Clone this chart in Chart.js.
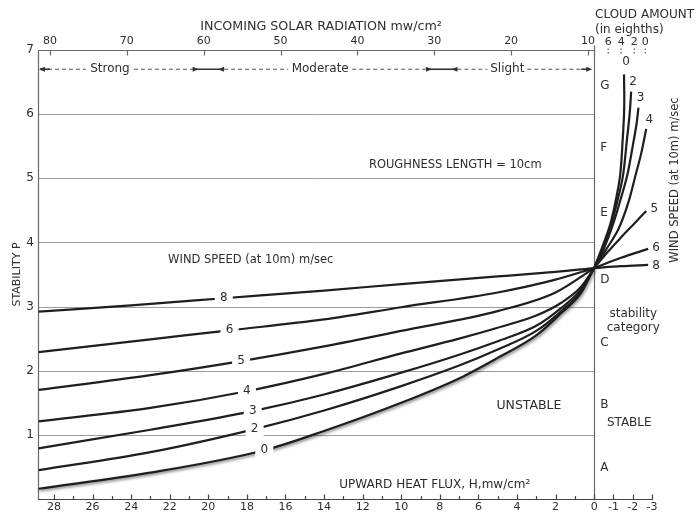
<!DOCTYPE html>
<html>
<head>
<meta charset="utf-8">
<script src="https://cdn.jsdelivr.net/npm/chart.js@4/dist/chart.umd.min.js"></script>
<style>
  html, body { margin: 0; padding: 0; background: #fff; }
  #wrap { width: 698px; height: 513px; }
</style>
</head>
<body>
<div id="wrap"><canvas id="c" width="698" height="513"></canvas></div>
<script>
// ---- axes ----
const FLUX_TICKS  = [28,27,26,25,24,23,22,21,20,19,18,17,16,15,14,13,12,11,10,9,8,7,6,5,4,3,2,1,0,-1,-2,-3];
const FLUX_LABELS = ['28','','26','','24','','22','','20','','18','','16','','14','','12','','10','','8','','6','','4','','2','','0','-1','-2','-3'];
const SOLAR_TICKS = [80,70,60,50,40,30,20,10];
const STAB_TICKS  = [0,1,2,3,4,5,6,7];
const CLOUD_TICKS = ['6','4','2','0'];
const CLOUD_AT_FLUX = [-0.73,-1.4,-2.08,-2.65];
const CATEGORIES  = ['G','F','E','D','C','B','A'];
const CATEGORY_P  = [6.44,5.47,4.46,3.41,2.43,1.46,0.48];

// ---- wind speed curves, unstable side (heat flux H, stability P) ----
const WIND_SPEEDS = ['0','2','3','4','5','6','8'];
const unstable0 = [[28.8,0.16],[23,0.41],[17.1,0.76],[14,1.06],[10,1.5],[7,1.88],[5,2.2],[3,2.55],[1.7,2.9],[0.7,3.2],[0,3.6]];
const unstable2 = [[28.8,0.45],[23,0.73],[17.6,1.09],[14,1.38],[10,1.76],[7,2.08],[5,2.33],[3,2.62],[1.7,2.93],[0.7,3.23],[0,3.6]];
const unstable3 = [[28.8,0.79],[23,1.08],[17.7,1.37],[14,1.63],[10,1.97],[7,2.25],[5,2.46],[3,2.7],[1.7,2.98],[0.7,3.26],[0,3.6]];
const unstable4 = [[28.8,1.21],[23,1.42],[18.0,1.68],[14,1.95],[10,2.27],[7,2.5],[5,2.67],[3,2.86],[1.7,3.06],[0.7,3.3],[0,3.6]];
const unstable5 = [[28.8,1.70],[23,1.93],[18.3,2.15],[14,2.38],[10,2.62],[5,2.93],[2,3.22],[0,3.6]];
const unstable6 = [[28.8,2.29],[23,2.49],[18.9,2.63],[14,2.80],[10,2.99],[5,3.22],[2,3.42],[0,3.6]];
const unstable8 = [[28.8,2.92],[24,3.02],[19.2,3.13],[14,3.25],[10,3.35],[5,3.47],[2,3.54],[0,3.6]];
const LABEL_INDEX = 2;

// ---- wind speed curves, stable side ----
const stable0 = [[0,3.6],[-0.45,3.95],[-0.85,4.3],[-1.15,4.7],[-1.35,5.05],[-1.48,5.6],[-1.56,6.1],[-1.55,6.62]];
const stable2 = [[0,3.6],[-0.45,3.92],[-0.9,4.3],[-1.25,4.7],[-1.5,5.05],[-1.7,5.6],[-1.84,6.0],[-1.92,6.35]];
const stable3 = [[0,3.6],[-0.5,3.9],[-1.0,4.3],[-1.4,4.7],[-1.72,5.05],[-2.0,5.5],[-2.2,5.85],[-2.3,6.1]];
const stable4 = [[0,3.6],[-0.6,3.88],[-1.25,4.2],[-1.75,4.6],[-2.15,5.05],[-2.45,5.4],[-2.7,5.77]];
const stable5 = [[0,3.6],[-0.7,3.85],[-1.4,4.08],[-2.1,4.3],[-2.7,4.49]];
const stable6 = [[0,3.6],[-1.4,3.76],[-2.8,3.9]];
const stable8 = [[0,3.6],[-1.4,3.63],[-2.8,3.65]];
// where each stable curve's label sits, in pixels from the curve's last point
const STABLE_LABEL_SHIFT = [[2,-12],[2,-10],[2,-10],[3,-9],[8,-2],[8,-1],[8,1]];

const INK = '#1e1e1e';
const TXT = '#2e2e2e';
const FONT = '"DejaVu Sans", Roboto, sans-serif';

const toXY = arr => arr.map(([h, p]) => ({x: h, y: p}));
const unstableSets = [unstable0, unstable2, unstable3, unstable4, unstable5, unstable6, unstable8];
const stableSets   = [stable0, stable2, stable3, stable4, stable5, stable6, stable8];

const datasets = [];
unstableSets.forEach((arr, i) => datasets.push({
  label: 'u' + WIND_SPEEDS[i], data: toXY(arr), borderColor: INK, borderWidth: 2.2,
  pointRadius: 0, cubicInterpolationMode: 'monotone', clip: false, fill: false
}));
stableSets.forEach((arr, i) => datasets.push({
  label: 's' + WIND_SPEEDS[i], data: toXY(arr), borderColor: INK, borderWidth: 2.2,
  pointRadius: 0, tension: 0.35, clip: false, fill: false
}));

function text(ctx, s, x, y, size, align = 'center', base = 'middle') {
  ctx.font = size + 'px ' + FONT;
  ctx.textAlign = align; ctx.textBaseline = base;
  ctx.fillText(s, x, y);
}
function seg(ctx, x1, y1, x2, y2) {
  ctx.beginPath(); ctx.moveTo(x1, y1); ctx.lineTo(x2, y2); ctx.stroke();
}
function arrowHead(ctx, x, y, dir) {
  ctx.beginPath(); ctx.moveTo(x, y); ctx.lineTo(x - dir * 6, y - 2.5); ctx.lineTo(x - dir * 6, y + 2.5); ctx.closePath(); ctx.fill();
}

const decor = {
  id: 'decor',
  beforeDatasetsDraw(chart) {
    const {ctx, scales: {x, y, xTop}} = chart;
    const X = h => x.getPixelForValue(h), Y = p => y.getPixelForValue(p);
    const left = chart.chartArea.left, zero = Math.round(X(0)) + 0.5;
    ctx.save();
    // stability grid
    ctx.strokeStyle = '#9c9c9c'; ctx.lineWidth = 1;
    for (const p of STAB_TICKS) {
      if (p === 0 || p === 7) continue;
      const yy = Math.round(Y(p)) + 0.5;
      seg(ctx, left, yy, zero, yy);
    }
    // frame
    ctx.strokeStyle = '#6a6a6a'; ctx.lineWidth = 1.2;
    const top = Math.round(Y(7)) + 0.5, bot = Math.round(Y(0)) + 0.5;
    seg(ctx, left + 0.5, top, zero, top);
    seg(ctx, left + 0.5, top, left + 0.5, bot);
    seg(ctx, zero, top - 5, zero, bot);
    ctx.strokeStyle = '#444';
    seg(ctx, left, bot, X(-3) + 1, bot);
    // flux ticks
    for (const v of FLUX_TICKS) { const xx = Math.round(X(v)) + 0.5; seg(ctx, xx, bot, xx, bot - (v % 2 === 0 || v < 0 ? 5 : 3.5)); }
    // solar ticks
    ctx.strokeStyle = '#6a6a6a';
    for (const v of SOLAR_TICKS) { const xx = Math.round(xTop.getPixelForValue(v)) + 0.5; seg(ctx, xx, top, xx, top + 5); }
    // cloud ticks (dotted)
    ctx.setLineDash([1.5, 2]); ctx.strokeStyle = '#555';
    CLOUD_AT_FLUX.forEach(h => { const xx = X(h); seg(ctx, xx, top - 2, xx, top + 4); });
    ctx.setLineDash([]);

    // insolation classes
    const yb = Y(6.7);
    ctx.fillStyle = TXT; ctx.strokeStyle = '#555'; ctx.lineWidth = 1;
    ctx.setLineDash([4, 3]);
    const bands = [[left + 10, X(25.1) - 24], [X(25.1) + 24, X(20.4) - 8], [X(19.6) + 8, X(14.2) - 32], [X(14.2) + 32, X(8.3) - 8], [X(7.5) + 8, X(4.5) - 20], [X(4.5) + 20, X(0.25) - 6]];
    bands.forEach(([a, b]) => seg(ctx, a, yb, b, yb));
    ctx.setLineDash([]); ctx.lineWidth = 1.6; ctx.strokeStyle = '#333'; ctx.fillStyle = '#333';
    seg(ctx, left + 2, yb, left + 12, yb); arrowHead(ctx, left + 1, yb, -1);
    seg(ctx, X(20.4) - 8, yb, X(19.6) + 8, yb); arrowHead(ctx, X(20.4) - 2, yb, 1); arrowHead(ctx, X(19.6) + 2, yb, -1);
    seg(ctx, X(8.3) - 8, yb, X(7.5) + 8, yb); arrowHead(ctx, X(8.3) - 2, yb, 1); arrowHead(ctx, X(7.5) + 2, yb, -1);
    seg(ctx, X(0.25) - 8, yb, X(0.25), yb); arrowHead(ctx, X(0.2) + 2, yb, 1);
    ctx.fillStyle = TXT;
    text(ctx, 'Strong', X(25.1), yb, 12);
    text(ctx, 'Moderate', X(14.2), yb, 12);
    text(ctx, 'Slight', X(4.5), yb, 12);
    ctx.restore();
  },
  beforeDatasetDraw(chart, args) {
    // the calm-wind curve is printed softer than the others
    if (args.index === 0) {
      const ctx = chart.ctx;
      ctx.save();
      ctx.shadowColor = 'rgba(0,0,0,0.55)'; ctx.shadowBlur = 3; ctx.shadowOffsetX = 1; ctx.shadowOffsetY = 1.5;
    }
  },
  afterDatasetDraw(chart, args) {
    if (args.index === 0) chart.ctx.restore();
  },
  afterDatasetsDraw(chart) {
    const {ctx, scales: {x, y}} = chart;
    const X = h => x.getPixelForValue(h), Y = p => y.getPixelForValue(p);
    ctx.save();
    ctx.fillStyle = TXT;
    // labels on the unstable curves, set into gaps
    WIND_SPEEDS.forEach((w, i) => {
      const el = chart.getDatasetMeta(i).data[LABEL_INDEX];
      ctx.fillStyle = '#fff';
      ctx.fillRect(el.x - 9, el.y - 7, 18, 14);
      ctx.fillStyle = TXT;
      text(ctx, w, el.x, el.y, 12);
    });
    // labels at the ends of the stable curves
    WIND_SPEEDS.forEach((w, i) => {
      const pts = chart.getDatasetMeta(i + WIND_SPEEDS.length).data;
      const el = pts[pts.length - 1];
      const [dx, dy] = STABLE_LABEL_SHIFT[i];
      text(ctx, w, el.x + dx, el.y + dy, 12, 'center');
    });
    // categories
    CATEGORIES.forEach((c, i) => text(ctx, c, X(0) + 6, Y(CATEGORY_P[i]), 12, 'left'));
    text(ctx, 'stability', X(-2.03), Y(2.89), 12);
    text(ctx, 'category', X(-2.03), Y(2.67), 12);
    text(ctx, 'STABLE', X(-1.82), Y(1.18), 12);
    text(ctx, 'UNSTABLE', X(3.38), Y(1.45), 12.5);
    text(ctx, 'ROUGHNESS LENGTH = 10cm', X(7.2), Y(5.21), 11.5);
    text(ctx, 'WIND SPEED (at 10m) m/sec', X(17.8), Y(3.72), 11.5);
    text(ctx, 'UPWARD HEAT FLUX, H,mw/cm²', X(8.26), Y(0.22), 12);
    // outer titles
    text(ctx, 'INCOMING SOLAR RADIATION mw/cm²', 321, 27, 12.7);
    text(ctx, 'CLOUD AMOUNT', 595, 15, 12, 'left');
    text(ctx, '(in eighths)', 595, 30, 12, 'left');
    CLOUD_TICKS.forEach((c, i) => text(ctx, c, X(CLOUD_AT_FLUX[i]), 42, 11));
    ctx.translate(675, 180); ctx.rotate(-Math.PI / 2);
    text(ctx, 'WIND SPEED (at 10m) m/sec', 0, 0, 11.5);
    ctx.restore();
  }
};

new Chart(document.getElementById('c'), {
  type: 'line',
  data: { datasets },
  options: {
    responsive: false, animation: false, devicePixelRatio: 1,
    layout: { padding: { left: 0, right: 46, top: 0, bottom: 0 } },
    plugins: { legend: { display: false }, tooltip: { enabled: false } },
    scales: {
      x: {
        type: 'linear', position: 'bottom', reverse: true, min: -3, max: 28.83,
        afterBuildTicks: s => { s.ticks = FLUX_TICKS.map(v => ({value: v})); },
        afterFit: s => { s.height = 14; },
        ticks: { autoSkip: false, maxRotation: 0, padding: 2, color: TXT, font: { family: FONT, size: 11 },
                 callback: (v, i) => FLUX_LABELS[i] },
        grid: { display: false, drawTicks: false }, border: { display: false }
      },
      xTop: {
        type: 'linear', position: 'top', reverse: true, min: 1.67, max: 81.56,
        afterBuildTicks: s => { s.ticks = SOLAR_TICKS.map(v => ({value: v})); },
        afterFit: s => { s.height = 50; },
        ticks: { autoSkip: false, maxRotation: 0, padding: 2, color: TXT, font: { family: FONT, size: 11 } },
        grid: { display: false, drawTicks: false }, border: { display: false }
      },
      y: {
        type: 'linear', min: 0, max: 7,
        afterBuildTicks: s => { s.ticks = STAB_TICKS.map(v => ({value: v})); },
        afterFit: s => { s.width = 38; },
        ticks: { padding: 4, color: TXT, font: { family: FONT, size: 12 }, callback: v => v === 0 ? '' : String(v) },
        title: { display: true, text: 'STABILITY P', color: TXT, font: { family: FONT, size: 11 }, padding: { top: 11, bottom: 0 } },
        grid: { display: false, drawTicks: false }, border: { display: false }
      }
    }
  },
  plugins: [decor]
});
</script>
</body>
</html>
